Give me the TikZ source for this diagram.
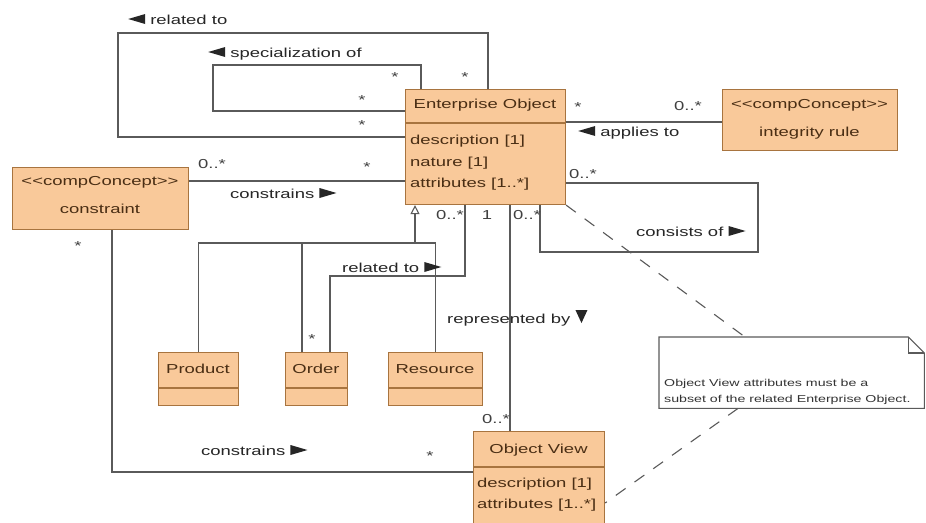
\documentclass[tikz,border=0pt]{standalone}
\usepackage{fontspec}
\setmainfont[FakeStretch=1.42]{Liberation Sans}
\usetikzlibrary{arrows.meta}
\definecolor{fillc}{HTML}{F9C99A}
\definecolor{bordc}{HTML}{A8743F}
\definecolor{txtc}{HTML}{4A2E14}
\definecolor{linec}{HTML}{5A5A5A}
\newcommand{\trR}{\tikz[baseline=0pt]\fill (0pt,0pt) -- (0pt,10pt) -- (17pt,5pt) -- cycle;}
\newcommand{\trL}{\tikz[baseline=0pt]\fill (17pt,0pt) -- (17pt,10pt) -- (0pt,5pt) -- cycle;}
\newcommand{\trD}{\tikz[baseline=0pt]\fill (0pt,13pt) -- (12pt,13pt) -- (6pt,0pt) -- cycle;}
\begin{document}
\begin{tikzpicture}[x=1pt,y=-1pt,
  cls/.style={draw=bordc, fill=fillc, line width=1.1pt, inner sep=0pt, anchor=north west},
  divl/.style={draw=bordc, line width=1.1pt},
  conn/.style={draw=linec, line width=1.1pt},
  dconn/.style={draw=linec, line width=1.1pt, dash pattern=on 12pt off 11pt},
  lbl/.style={font=\fontsize{13}{15}\selectfont, text=black!85, inner sep=0pt, anchor=base west},
  mult/.style={font=\fontsize{13}{15}\selectfont, text=black!75, inner sep=0pt, anchor=base},
  btxt/.style={font=\fontsize{13}{15}\selectfont, text=txtc, inner sep=0pt, anchor=base west},
  ctxt/.style={font=\fontsize{13}{15}\selectfont, text=txtc, inner sep=0pt, anchor=base},
  ntxt/.style={font=\fontsize{10}{12}\selectfont, text=black!80, inner sep=0pt, anchor=base west}]
\useasboundingbox[fill=white] (0,0) rectangle (926,522);

% ---------- boxes ----------
\node[cls, minimum width=160pt, minimum height=115pt] (eo) at (405,89) {};
\draw[divl] (eo.west |- 0,123) -- (eo.east |- 0,123);
\node[ctxt] (eot) at (485,108) {Enterprise Object};
\node[btxt] (eoa1) at (410,144) {description [1]};
\node[btxt] (eoa2) at (410,166) {nature [1]};
\node[btxt] (eoa3) at (410,187) {attributes [1..*]};

\node[cls, minimum width=175pt, minimum height=61pt] (integ) at (722,89) {};
\node[ctxt] (it1) at (809.5,108) {<\kern0pt<compConcept>\kern0pt>};
\node[ctxt] (it2) at (809.5,136) {integrity rule};

\node[cls, minimum width=176pt, minimum height=62pt] (cons) at (12,167) {};
\node[ctxt] (ct1) at (100,185) {<\kern0pt<compConcept>\kern0pt>};
\node[ctxt] (ct2) at (100,213) {constraint};

\node[cls, minimum width=80pt, minimum height=53pt] (product) at (158,352) {};
\draw[divl] (product.west |- 0,388) -- (product.east |- 0,388);
\node[ctxt] (pt) at (198,373) {Product};

\node[cls, minimum width=62pt, minimum height=53pt] (order) at (285,352) {};
\draw[divl] (order.west |- 0,388) -- (order.east |- 0,388);
\node[ctxt] (ot) at (316,373) {Order};

\node[cls, minimum width=94pt, minimum height=53pt] (resource) at (388,352) {};
\draw[divl] (resource.west |- 0,388) -- (resource.east |- 0,388);
\node[ctxt] (rt) at (435,373) {Resource};

\node[cls, minimum width=131pt, minimum height=96pt] (ov) at (473,431) {};
\draw[divl] (ov.west |- 0,467) -- (ov.east |- 0,467);
\node[ctxt] (ovt) at (538.5,453) {Object View};
\node[btxt] (ova1) at (477,487) {description [1]};
\node[btxt] (ova2) at (477,508) {attributes [1..*]};

\node[inner sep=0pt, minimum width=265pt, minimum height=71pt, anchor=north west] (note) at (659,337) {};
\draw[conn, fill=white] (note.north west) -- ([xshift=-16pt]note.north east) -- ([yshift=-16pt]note.north east) -- (note.south east) -- (note.south west) -- cycle;
\draw[conn] ([xshift=-16pt]note.north east) |- ([yshift=-16pt]note.north east);
\node[ntxt] (nt1) at (664,386) {Object View attributes must be a};
\node[ntxt] (nt2) at (664,402) {subset of the related Enterprise Object.};

% ---------- connectors ----------
\draw[conn] (eo.north -| 488,0) |- (118,33) |- (eo.west |- 0,137);
\draw[conn] (eo.north -| 421,0) |- (213,65) |- (eo.west |- 0,111);
\draw[conn] (cons.east |- 0,181) -- (eo.west |- 0,181);
\draw[conn] (eo.east |- 0,122) -- (integ.west |- 0,122);
\draw[conn] (eo.east |- 0,183) -| (758,252) -| (eo.south -| 540,0);
\coordinate (gen) at (415,243);
\draw[conn] (product.north) |- (resource.north |- gen) -- (resource.north);
\draw[conn] (order.north -| 302,0) -- (gen -| 302,0);
\draw[conn, -{Triangle[open, length=9pt, width=9pt, fill=white]}] (gen) -- (eo.south -| gen);
\draw[conn] (order.north -| 330,0) |- (465,276) -- (eo.south -| 465,0);
\draw[conn] (eo.south -| 510,0) -- (ov.north -| 510,0);
\draw[conn] (cons.south -| 112,0) |- (ov.west |- 0,472);
\draw[dconn] (eo.south east) -- (note.north -| 745,0);
\draw[dconn] (note.south -| 738,0) -- (ov.east |- 0,503);

% ---------- labels ----------
\node[lbl] (l1) at (128,24) {\trL\ related to};
\node[lbl] (l2) at (208,57) {\trL\ specialization of};
\node[lbl] (l3) at (578,136) {\trL\ applies to};
\node[lbl] (l4) at (230,198) {constrains \trR};
\node[lbl] (l5) at (636,236) {consists of \trR};
\node[lbl] (l6) at (342,272) {related to \trR};
\node[lbl] (l7) at (447,323) {represented by \trD};
\node[lbl] (l8) at (201,455) {constrains \trR};

% ---------- multiplicities ----------
\node[mult] (m1) at (395,81) {*};
\node[mult] (m2) at (465,81) {*};
\node[mult] (m3) at (362,104) {*};
\node[mult] (m4) at (362,129) {*};
\node[mult] (m5) at (578,111) {*};
\node[mult] (m6) at (688,110) {0..*};
\node[mult] (m7) at (583,178) {0..*};
\node[mult] (m8) at (527,219) {0..*};
\node[mult] (m9) at (450,219) {0..*};
\node[mult] (m10) at (487,219) {1};
\node[mult] (m11) at (212,168) {0..*};
\node[mult] (m12) at (367,171) {*};
\node[mult] (m13) at (78,250) {*};
\node[mult] (m14) at (312,343) {*};
\node[mult] (m15) at (496,423) {0..*};
\node[mult] (m16) at (430,460) {*};
\end{tikzpicture}
\end{document}
